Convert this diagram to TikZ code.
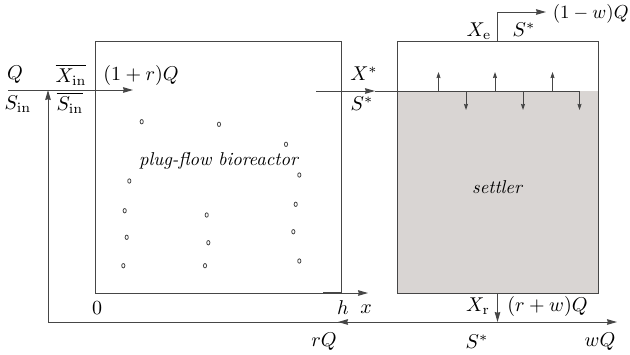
\documentclass[tikz,border=0pt]{standalone}
\usetikzlibrary{arrows.meta}
\definecolor{ln}{RGB}{70,70,70}
\definecolor{sludge}{RGB}{217,213,211}
\begin{document}
\begin{tikzpicture}[x=0.5pt,y=-0.5pt,
  wire/.style={draw=ln,line width=0.5pt},
  bigtip/.style={-{Stealth[length=5pt,width=2.8pt,inset=0.4pt]}},
  smalltip/.style={-{Stealth[length=3pt,width=2pt,inset=0.3pt]}},
  lab/.style={inner sep=0pt},
  itlab/.style={inner sep=0pt,font=\itshape,scale=0.93},
  granule/.style={draw=ln,line width=0.4pt}]
\useasboundingbox (0,0) rectangle (630,354);
% settler fill
\fill[sludge] (397,91) rectangle (598,293);
% bioreactor box
\draw[wire] (95,293) coordinate (r0) -- (95,41) -- (341,41) -- (341,293) coordinate (rh);
% x axis
\coordinate (xend) at (368,293);
\draw[wire,bigtip] (r0) -- (xend);
\draw[draw=ln,line width=1pt] (323,293) -- (rh);
% settler box
\draw[wire] (397,41) rectangle (598,293);
\coordinate (stop) at (497.5,41);
\coordinate (sbot) at (497.5,293);
% effluent
\coordinate (ecorner) at (497.5,12);
\coordinate (eend) at (546,12);
\draw[wire,bigtip] (stop) -- (ecorner) -- (eend);
% inlet
\coordinate (in0) at (8,90);
\coordinate (intip) at (133,90);
\draw[wire,bigtip] (in0) -- (intip);
% recycle loop
\coordinate (rc0) at (48,322);
\coordinate (rcup) at (48,90);
\coordinate (rcend) at (617,322);
\draw[wire,bigtip] (rc0) -- (rcup);
\draw[wire,bigtip] (rc0) -- (rcend);
\draw[wire,bigtip] (360,322) -- (338,322);
\draw[wire,bigtip] (sbot) -- (497.5,322);
% feed to settler
\coordinate (f0) at (316,91);
\coordinate (ftip) at (375,91);
\coordinate (iface) at (579.5,91);
\draw[wire,bigtip] (f0) -- (ftip);
\draw[wire] (ftip) -- (iface);
% up / down arrows
\foreach \u in {438.5,495,552.5}
  \draw[wire,smalltip] (\u,91) -- (\u,72);
\foreach \d in {466,523,579.5}
  \draw[wire,smalltip] (\d,91) -- (\d,110);
% granules
\foreach \p in {(141.7,121.7),(219,124.3),(286,144.3),(299.3,175),(129.3,181),
  (124.7,210.7),(206.7,215),(295.7,204.3),(126.7,237.3),(208.3,242.7),
  (293.3,231.7),(123.3,265.7),(205,265.7),(299.3,261)}
  \draw[granule] \p ellipse [x radius=0.8pt, y radius=1.1pt];
% labels
\node[lab] (lQ) at (15,75) {$Q$};
\node[lab] (lSin) at (18,104) {$S_{\mathrm{in}}$};
\node[lab] (lXinb) at (71,75) {$\overline{X_{\mathrm{in}}}$};
\node[lab] (lSinb) at (70,103) {$\overline{S_{\mathrm{in}}}$};
\node[lab,anchor=west] (lrQ1) at (103,75) {$(1+r)Q$};
\node[lab] (lXs) at (364,74) {$X^{*}$};
\node[lab] (lSs1) at (362,104) {$S^{*}$};
\node[lab] (lXe) at (479,31) {$X_{\mathrm{e}}$};
\node[lab] (lSs2) at (524,30) {$S^{*}$};
\node[lab,anchor=east,scale=0.94] (lwQ1) at (629,14) {$(1-w)Q$};
\node[itlab] (lpfr) at (218.5,161) {plug-flow bioreactor};
\node[itlab] (lset) at (497,187) {settler};
\node[lab] (l0) at (97,308) {$0$};
\node[lab] (lh) at (343,308) {$h$};
\node[lab] (lx) at (366,309) {$x$};
\node[lab] (lXr) at (478,306) {$X_{\mathrm{r}}$};
\node[lab,anchor=west] (lrwQ) at (507,306) {$(r+w)Q$};
\node[lab] (lrQ) at (324,342) {$rQ$};
\node[lab] (lSs3) at (477,342) {$S^{*}$};
\node[lab] (lwQ) at (600,342) {$wQ$};
\end{tikzpicture}
\end{document}
